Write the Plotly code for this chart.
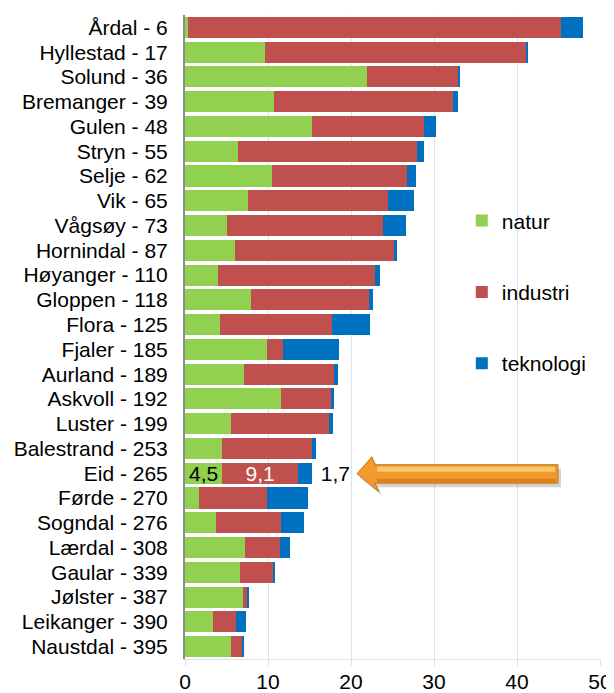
import plotly.graph_objects as go

kommuner = ["Årdal - 6", "Hyllestad - 17", "Solund - 36", "Bremanger - 39", "Gulen - 48",
            "Stryn - 55", "Selje - 62", "Vik - 65", "Vågsøy - 73", "Hornindal - 87",
            "Høyanger - 110", "Gloppen - 118", "Flora - 125", "Fjaler - 185", "Aurland - 189",
            "Askvoll - 192", "Luster - 199", "Balestrand - 253", "Eid - 265", "Førde - 270",
            "Sogndal - 276", "Lærdal - 308", "Gaular - 339", "Jølster - 387", "Leikanger - 390",
            "Naustdal - 395"]
natur = [0.4, 9.6, 21.9, 10.7, 15.3, 6.4, 10.5, 7.6, 5.1, 6.0, 4.0, 8.0, 4.2, 9.9, 7.1,
         11.6, 5.6, 4.4, 4.5, 1.7, 3.7, 7.2, 6.6, 7.0, 3.4, 5.6]
industri = [44.9, 31.6, 11.0, 21.6, 13.5, 21.5, 16.2, 16.8, 18.7, 19.2, 18.9, 14.2, 13.5, 1.9,
            10.9, 6.0, 11.8, 10.9, 9.1, 8.2, 7.9, 4.2, 4.1, 0.5, 2.7, 1.3]
teknologi = [2.6, 0.1, 0.2, 0.6, 1.4, 0.9, 1.1, 3.2, 2.8, 0.3, 0.6, 0.4, 4.6, 6.7, 0.4,
             0.4, 0.4, 0.5, 1.7, 4.9, 2.7, 1.2, 0.2, 0.1, 1.3, 0.1]
fremheva = "Eid - 265"

FONT = "Liberation Sans, Arial, sans-serif"

def etikett(verdier, prefiks=""):
    return [prefiks + f"{v:.1f}".replace(".", ",") if k == fremheva else "" for k, v in zip(kommuner, verdier)]

fig = go.Figure()
serier = [("natur", natur, "#92D050", "black", "inside", ""),
          ("industri", industri, "#C0504D", "white", "inside", ""),
          ("teknologi", teknologi, "#0070C0", "black", "outside", " ")]
for navn, verdier, farge, tekstfarge, pos, pre in serier:
    fig.add_bar(y=kommuner, x=verdier, name=navn, orientation="h", legendgroup=navn,
                marker=dict(color=farge, line=dict(width=0)),
                text=etikett(verdier, pre), textposition=pos, insidetextanchor="middle",
                constraintext="none", cliponaxis=False,
                textfont=dict(color=tekstfarge, size=21, family=FONT))

# page has an 8px body margin, so the figure is 8px smaller than the window
OFF = 8
W, H = 614 - OFF, 693 - OFF
# plot area in page pixels
L, R, T, B = 185, 600, 15, 659.4

def px(x, y):
    return f"{(x - L) / (R - L):.4f},{(B - y) / (B - T):.4f}"

def poly(pts, dx=0, dy=0):
    return "M" + " L".join(px(x + dx, y + dy) for x, y in pts) + " Z"

# orange arrow pointing at Eid
pil = [(357, 474), (372, 457), (375, 465), (558, 465), (558, 483.5), (375, 483.5), (379, 492)]
fig.add_shape(type="path", xref="paper", yref="paper", path=poly(pil, 3, 4),
              fillcolor="rgba(110,110,110,0.30)", line=dict(width=0), layer="above")
fig.add_shape(type="path", xref="paper", yref="paper", path=poly(pil),
              fillcolor="#F29B2C", line=dict(color="#C9731A", width=1), layer="above")
fig.add_shape(type="path", xref="paper", yref="paper",
              path=poly([(377, 467), (555, 467), (555, 472), (377, 472)]),
              fillcolor="#FAC870", line=dict(width=0), layer="above")
fig.add_shape(type="path", xref="paper", yref="paper",
              path=poly([(377, 479), (556, 479), (556, 482.5), (377, 482.5)]),
              fillcolor="#DB7F18", line=dict(width=0), layer="above")

fig.update_layout(
    width=W, height=H,
    margin=dict(l=L - OFF, r=W - (R - OFF), t=T - OFF, b=H - (B - OFF)),
    plot_bgcolor="white", paper_bgcolor="white",
    barmode="stack", bargap=0.15,
    font=dict(family=FONT, size=21, color="black"),
    showlegend=True,
    legend=dict(x=0.667, y=0.712, xanchor="left", yanchor="top",
                traceorder="grouped", tracegroupgap=41,
                font=dict(size=21, family=FONT), bgcolor="rgba(0,0,0,0)"),
    xaxis=dict(range=[0, 50], dtick=10, showgrid=True, gridcolor="#D9E2F3", gridwidth=1,
               zeroline=False, showline=True, linecolor="#D9E2F3", linewidth=1,
               ticks="outside", ticklen=6, tickcolor="#D9E2F3", ticklabelstandoff=-2,
               tickfont=dict(size=21), automargin=False, fixedrange=True),
    yaxis=dict(autorange="reversed", tickmode="array", tickvals=kommuner,
               showgrid=False, showline=True, linecolor="#8C8C8C",
               linewidth=2, ticks="", ticksuffix="  ", ticklabelstandoff=11,
               tickfont=dict(size=21), automargin=False, fixedrange=True),
)

fig.write_html("out.html")
